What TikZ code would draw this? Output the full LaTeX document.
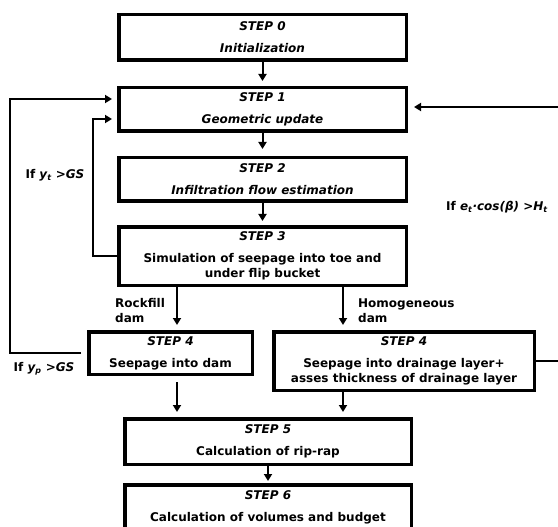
\documentclass[tikz,border=0pt]{standalone}
\usepackage{fontspec}
\setmainfont{DejaVu Sans}
\usetikzlibrary{arrows.meta}

\begin{document}
\begin{tikzpicture}[
        x=1pt, y=-1pt,
        stepbox/.style={draw, line width=3.5pt, align=center, inner sep=0pt,
            font=\fontsize{12}{15}\selectfont\bfseries},
        flow/.style={-{Triangle[width=8pt, length=7pt]}, line width=2pt},
        backline/.style={flow, line width=2.5pt},
        cond/.style={font=\fontsize{12}{15}\selectfont\bfseries, inner sep=0pt},
    ]
        \useasboundingbox (0,0) rectangle (558,527);

        \node[stepbox, minimum width=287.5pt, minimum height=45.5pt] (s0) at (262.5,37.5) {\textit{STEP 0}\\[7pt]\textit{Initialization}};
        \node[stepbox, minimum width=287.5pt, minimum height=43.5pt] (s1) at (262.5,109.5) {\textit{STEP 1}\\[7pt]\textit{Geometric update}};
        \node[stepbox, minimum width=287.5pt, minimum height=43.5pt] (s2) at (262.5,179.5) {\textit{STEP 2}\\[7pt]\textit{Infiltration flow estimation}};
        \node[stepbox, minimum width=287.5pt, minimum height=58.5pt] (s3) at (262.5,256) {\textit{STEP 3}\\[7pt]Simulation of seepage into toe and\\under flip bucket};
        \node[stepbox, minimum width=163.5pt, minimum height=42.5pt] (s4a) at (170.5,353) {\textit{STEP 4}\\[7pt]Seepage into dam};
        \node[stepbox, minimum width=260.5pt, minimum height=58.5pt] (s4b) at (404,361) {\textit{STEP 4}\\[7pt]Seepage into drainage layer+\\asses thickness of drainage layer};
        \node[stepbox, minimum width=286.5pt, minimum height=45.5pt] (s5) at (268,441.5) {\textit{STEP 5}\\[7pt]Calculation of rip-rap};
        \node[stepbox, minimum width=286.5pt, minimum height=45.5pt] (s6) at (268,507.5) {\textit{STEP 6}\\[7pt]Calculation of volumes and budget};

        % branch columns and loop corners
        \coordinate (rockfill) at (177,0);
        \coordinate (homog) at (343,0);
        \coordinate (innerleft) at (93,119);
        \coordinate (outerleft) at (10,99);
        \coordinate (rightedge) at (561,107);

        \draw[flow, shorten >=5pt] (s0) -- (s1);
        \draw[flow, shorten >=7pt] (s1) -- (s2);
        \draw[flow, shorten >=4pt] (s2) -- (s3);
        \draw[flow, shorten >=5pt] (s3.south -| rockfill) -- (s4a.north -| rockfill);
        \draw[flow, shorten >=5pt] (s3.south -| homog) -- (s4b.north -| homog);
        \draw[flow, shorten <=6pt, shorten >=5pt] (s4a.south -| rockfill) -- (s5.north -| rockfill);
        \draw[flow, shorten >=5pt] (s4b.south -| homog) -- (s5.north -| homog);
        \draw[flow, shorten >=2pt] (s5) -- (s6);

        \draw[backline, shorten >=5pt] (s3.west) -| (innerleft) -- (innerleft -| s1.west);
        \draw[backline, shorten <=6pt, shorten >=5pt] (s4a.west) -| (outerleft) -- (outerleft -| s1.west);
        \draw[backline, shorten >=6pt] (s4b.east) -| (rightedge) -- (rightedge -| s1.east);

        \node[cond] (cyt) at (55,175) {If \textit{y\textsubscript{t} >GS}};
        \node[cond] (cyp) at (44,369) {If \textit{y\textsubscript{p} >GS}};
        \node[cond] (cet) at (497,207) {If \textit{e\textsubscript{t}·cos(β) >H\textsubscript{t}}};
        \node[cond, anchor=west, align=left] (lrock) at (115,310.5) {Rockfill\\dam};
        \node[cond, anchor=west, align=left] (lhomog) at (358,310.5) {Homogeneous\\dam};
    \end{tikzpicture}
\end{document}
